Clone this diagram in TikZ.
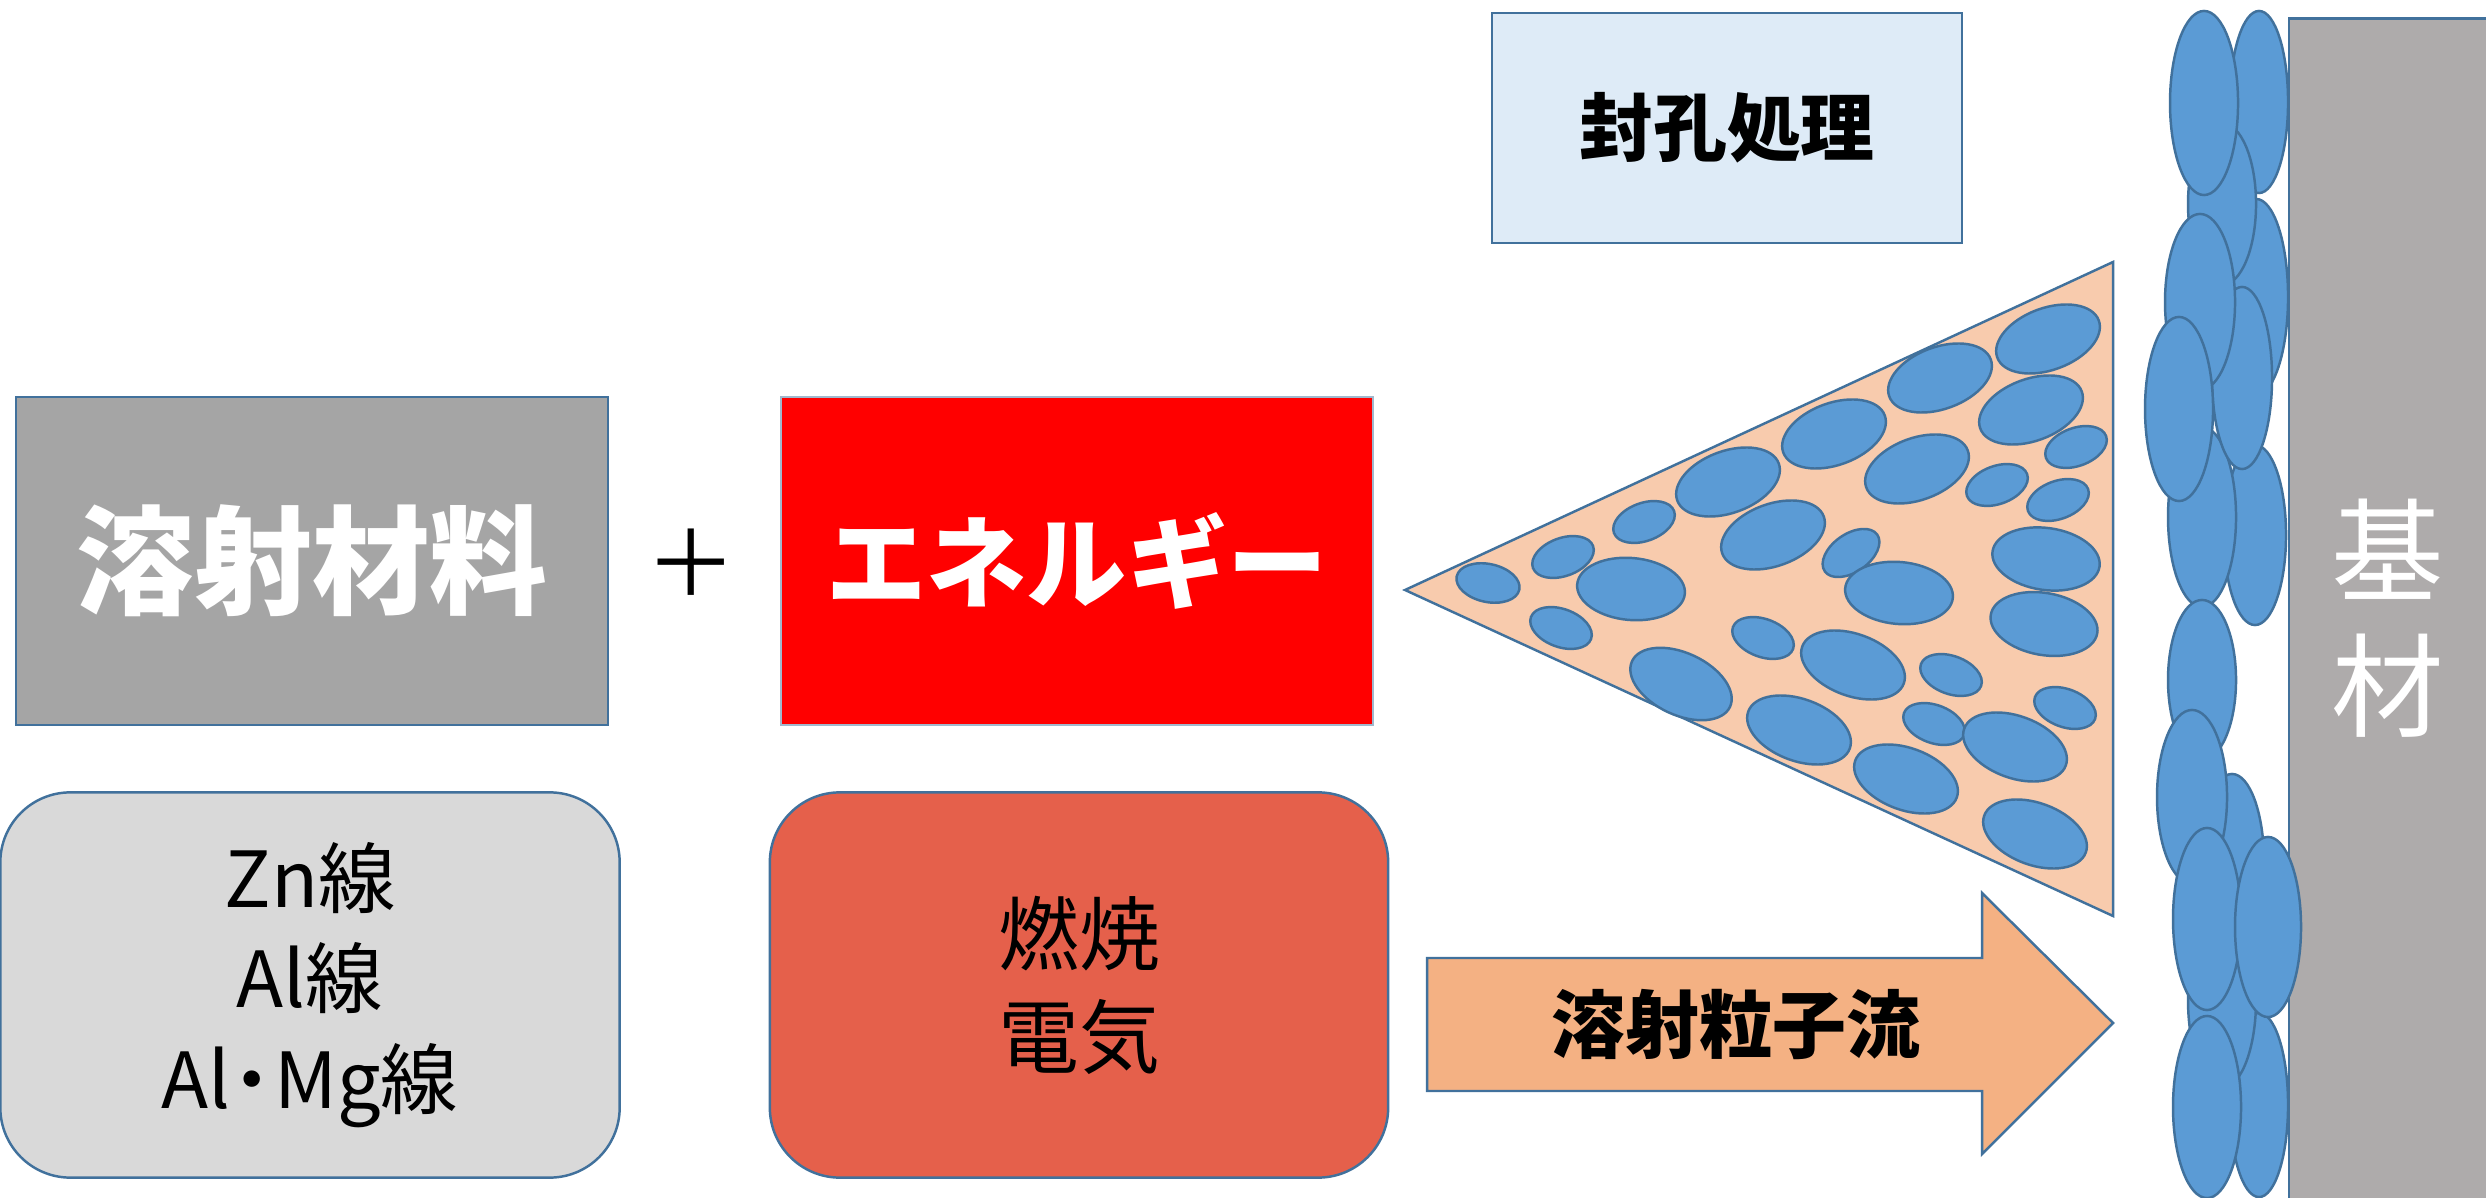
\documentclass[tikz,border=0pt]{standalone}
\usepackage{fontspec}
\setmainfont{Noto Sans CJK JP}
\usetikzlibrary{shapes.geometric}

\definecolor{edgeblue}{HTML}{41719C}
\definecolor{dropblue}{HTML}{5B9BD5}
\definecolor{conefill}{HTML}{F8CBAD}
\definecolor{flowfill}{HTML}{F4B183}
\definecolor{matgray}{HTML}{A5A5A5}
\definecolor{wiregray}{HTML}{D9D9D9}
\definecolor{heatred}{HTML}{E5604B}
\definecolor{basegray}{HTML}{AEABAB}
\definecolor{sealfill}{HTML}{DEEBF7}

\begin{document}
\begin{tikzpicture}[x=0.01cm, y=-0.01cm,
    box/.style={rectangle, draw=edgeblue, line width=0.7pt, inner sep=0pt, align=center},
    rbox/.style={box, rounded corners=0.7cm},
    drop/.style={ellipse, draw=edgeblue, fill=dropblue, line width=0.7pt, inner sep=0pt},
    big/.style={drop, minimum width=1.08cm, minimum height=0.62cm},
    small/.style={drop, minimum width=0.64cm, minimum height=0.38cm},
    splat/.style={drop, minimum width=0.68cm, minimum height=1.80cm}
]
    \useasboundingbox (0,0) rectangle (2486,1198);
    \clip (0,0) rectangle (2486,1198);

    % Material + energy
    \node[box, fill=matgray, text=white, minimum width=5.92cm, minimum height=3.28cm,
          font=\fontsize{33.5}{38}\selectfont\bfseries] (material) at (312,561) {溶射材料};
    \node[font=\fontsize{26}{30}\selectfont] (plus) at (691,563) {＋};
    \node[box, draw=edgeblue!50, fill=red, text=white, minimum width=5.92cm, minimum height=3.28cm,
          font=\fontsize{28.5}{32}\selectfont\bfseries] (energy) at (1077,561) {エネルギー};

    % What goes in
    \node[rbox, fill=wiregray, minimum width=6.19cm, minimum height=3.85cm,
          font=\fontsize{22}{28.5}\selectfont] (wire) at (310,985)
          {Zn線\\Al線\\Al\kern-0.22em・\kern-0.22emMg線};
    \node[rbox, fill=heatred, minimum width=6.18cm, minimum height=3.85cm,
          font=\fontsize{23}{29.3}\selectfont] (heat) at (1079,985) {燃焼\\電気};

    % Sealing
    \node[box, fill=sealfill, minimum width=4.70cm, minimum height=2.30cm,
          font=\fontsize{21}{25}\selectfont\bfseries] (seal) at (1727,128) {封孔処理};

    % Spray cone
    \coordinate (gun) at (1405,590);
    \coordinate (conetop) at (2113,262);
    \coordinate (conebot) at (2113,916);
    \draw[draw=edgeblue, fill=conefill, line width=0.7pt] (gun) -- (conetop) -- (conebot) -- cycle;

    % Particles in flight
    \node[big, rotate=20] (p1) at (2048,339) {};
    \node[big, rotate=20] (p2) at (1940,378) {};
    \node[big, rotate=20] (p3) at (2031,410) {};
    \node[small, rotate=20] (p4) at (2076,447) {};
    \node[big, rotate=20] (p5) at (1834,434) {};
    \node[big, rotate=20] (p6) at (1917,469) {};
    \node[small, rotate=20] (p7) at (1997,485) {};
    \node[small, rotate=20] (p8) at (2058,500) {};
    \node[big, rotate=20] (p9) at (1728,482) {};
    \node[small, rotate=20] (p10) at (1644,522) {};
    \node[big, rotate=20] (p11) at (1773,535) {};
    \node[small, rotate=35] (p12) at (1851,553) {};
    \node[big, rotate=-8] (p13) at (2046,559) {};
    \node[small, rotate=20] (p14) at (1563,557) {};
    \node[small, rotate=-12] (p15) at (1488,583) {};
    \node[big, rotate=-5] (p16) at (1631,589) {};
    \node[big, rotate=-5] (p17) at (1899,593) {};
    \node[big, rotate=-10] (p18) at (2044,624) {};
    \node[small, rotate=-20] (p19) at (1561,628) {};
    \node[small, rotate=-20] (p20) at (1763,638) {};
    \node[big, rotate=-20] (p21) at (1853,665) {};
    \node[small, rotate=-20] (p22) at (1951,675) {};
    \node[big, rotate=-25] (p23) at (1681,684) {};
    \node[small, rotate=-20] (p24) at (2065,708) {};
    \node[big, rotate=-20] (p25) at (1799,730) {};
    \node[small, rotate=-20] (p26) at (1934,724) {};
    \node[big, rotate=-20] (p27) at (2015,747) {};
    \node[big, rotate=-20] (p28) at (1906,779) {};
    \node[big, rotate=-20] (p29) at (2035,834) {};

    % Particle stream arrow
    \draw[draw=edgeblue, fill=flowfill, line width=0.7pt]
        (1427,958) -- (1982,958) -- (1982,893) -- (2113,1023) -- (1982,1154) -- (1982,1091) -- (1427,1091) -- cycle;
    \node[font=\fontsize{21}{25}\selectfont\bfseries] (flow) at (1736,1025) {溶射粒子流};

    % Substrate
    \node[box, fill=basegray, text=white, minimum width=1.98cm, minimum height=11.98cm,
          font=\fontsize{32}{38.4}\selectfont] (base) at (2388,618) {基\\材};

    % Coating splats
    \node[splat, minimum width=0.58cm, minimum height=1.82cm] (c2) at (2259,102) {};
    \node[splat, minimum width=0.64cm, minimum height=1.96cm] (c4) at (2256,297) {};
    \node[splat, minimum width=0.62cm] (c9) at (2255,535) {};
    \node[splat] (c8) at (2202,517) {};
    \node[splat, minimum height=1.62cm] (c3) at (2222,204) {};
    \node[splat, minimum height=1.84cm] (c1) at (2204,103) {};
    \node[splat, minimum width=0.60cm, minimum height=1.82cm] (c6) at (2242,378) {};
    \node[splat, minimum width=0.70cm, minimum height=1.76cm] (c5) at (2200,302) {};
    \node[splat, minimum height=1.84cm] (c7) at (2179,409) {};
    \node[splat, minimum width=0.64cm, minimum height=1.76cm] (c12) at (2232,862) {};
    \node[splat, minimum height=1.60cm] (c10) at (2202,680) {};
    \node[splat, minimum width=0.70cm, minimum height=1.74cm] (c11) at (2192,797) {};
    \node[splat, minimum width=0.58cm, minimum height=1.84cm] (c16) at (2259,1105) {};
    \node[splat, minimum height=1.76cm] (c15) at (2222,1000) {};
    \node[splat, minimum height=1.82cm] (c13) at (2207,919) {};
    \node[splat, minimum width=0.66cm] (c14) at (2268,927) {};
    \node[splat, minimum height=1.82cm] (c17) at (2207,1107) {};
\end{tikzpicture}
\end{document}
